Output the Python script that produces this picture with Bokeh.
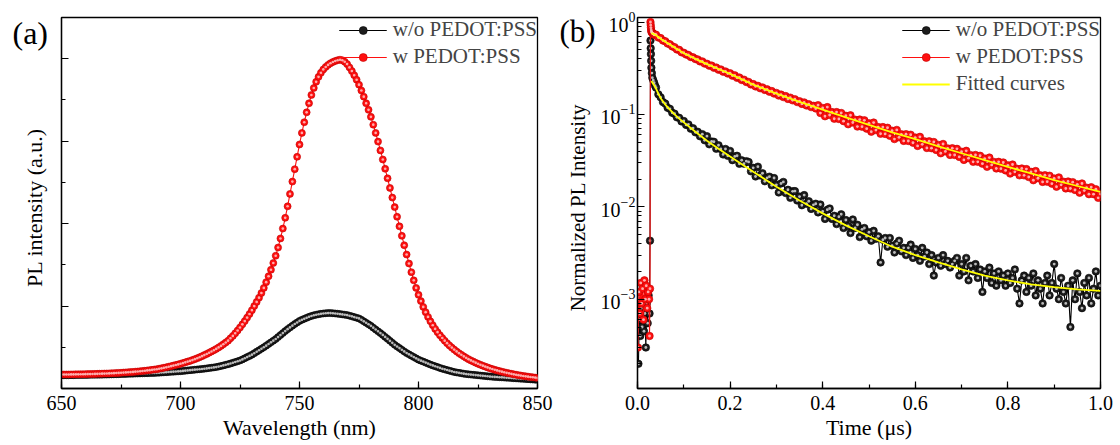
import math
import numpy as np
from bokeh.plotting import figure
from bokeh.layouts import row
from bokeh.models import (Range1d, SingleIntervalTicker, Legend, LegendItem, Label,
                          PrintfTickFormatter)
from bokeh.embed import file_html
from bokeh.resources import INLINE

FONT = "Liberation Serif"

# ---------------- Panel (a): PL spectra ----------------
wavelength = np.arange(650, 851, 1)  # nm, 1 nm step

pl_without = [
    0.160, 0.160, 0.161, 0.161, 0.162, 0.162, 0.163, 0.163, 0.164, 0.164,
    0.165, 0.165, 0.166, 0.166, 0.167, 0.167, 0.168, 0.168, 0.169, 0.169,
    0.170, 0.171, 0.172, 0.173, 0.174, 0.175, 0.176, 0.177, 0.178, 0.179,
    0.180, 0.181, 0.182, 0.183, 0.184, 0.185, 0.186, 0.187, 0.188, 0.189,
    0.190, 0.192, 0.194, 0.196, 0.198, 0.200, 0.202, 0.204, 0.206, 0.208,
    0.210, 0.213, 0.216, 0.219, 0.222, 0.225, 0.228, 0.231, 0.234, 0.237,
    0.240, 0.244, 0.248, 0.252, 0.256, 0.260, 0.266, 0.273, 0.280, 0.287,
    0.295, 0.303, 0.312, 0.321, 0.330, 0.340, 0.353, 0.367, 0.381, 0.395,
    0.410, 0.428, 0.446, 0.464, 0.482, 0.500, 0.520, 0.540, 0.560, 0.580,
    0.600, 0.624, 0.648, 0.672, 0.696, 0.720, 0.741, 0.762, 0.782, 0.801,
    0.820, 0.833, 0.845, 0.857, 0.869, 0.880, 0.888, 0.895, 0.901, 0.906,
    0.910, 0.913, 0.915, 0.915, 0.913, 0.910, 0.907, 0.903, 0.899, 0.895,
    0.890, 0.883, 0.875, 0.866, 0.858, 0.850, 0.833, 0.815, 0.797, 0.779,
    0.760, 0.738, 0.716, 0.694, 0.672, 0.650, 0.626, 0.602, 0.578, 0.554,
    0.530, 0.510, 0.490, 0.470, 0.450, 0.430, 0.414, 0.398, 0.382, 0.366,
    0.350, 0.338, 0.326, 0.314, 0.302, 0.290, 0.280, 0.270, 0.260, 0.250,
    0.240, 0.232, 0.224, 0.216, 0.208, 0.200, 0.195, 0.190, 0.185, 0.180,
    0.175, 0.172, 0.169, 0.166, 0.163, 0.160, 0.157, 0.154, 0.151, 0.148,
    0.145, 0.143, 0.141, 0.139, 0.137, 0.135, 0.133, 0.131, 0.129, 0.127,
    0.125, 0.123, 0.121, 0.119, 0.117, 0.115, 0.113, 0.111, 0.109, 0.107,
    0.105,
]

pl_with = [
    0.170, 0.170, 0.170, 0.170, 0.171, 0.171, 0.172, 0.172, 0.173, 0.173,
    0.174, 0.175, 0.175, 0.176, 0.177, 0.178, 0.179, 0.180, 0.181, 0.182,
    0.183, 0.185, 0.186, 0.188, 0.189, 0.191, 0.193, 0.195, 0.197, 0.199,
    0.201, 0.204, 0.206, 0.209, 0.212, 0.215, 0.219, 0.222, 0.226, 0.230,
    0.234, 0.240, 0.245, 0.251, 0.257, 0.264, 0.271, 0.278, 0.285, 0.292,
    0.300, 0.308, 0.317, 0.326, 0.335, 0.345, 0.356, 0.367, 0.379, 0.392,
    0.405, 0.419, 0.434, 0.449, 0.464, 0.480, 0.498, 0.517, 0.537, 0.558,
    0.580, 0.609, 0.638, 0.670, 0.704, 0.740, 0.778, 0.818, 0.860, 0.904,
    0.950, 1.000, 1.050, 1.102, 1.158, 1.220, 1.290, 1.362, 1.440, 1.522,
    1.610, 1.710, 1.820, 1.940, 2.070, 2.210, 2.360, 2.510, 2.660, 2.810,
    2.960, 3.100, 3.230, 3.350, 3.460, 3.560, 3.645, 3.720, 3.780, 3.830,
    3.870, 3.900, 3.925, 3.945, 3.960, 3.972, 3.982, 3.988, 3.982, 3.963,
    3.935, 3.895, 3.850, 3.800, 3.745, 3.685, 3.615, 3.540, 3.460, 3.380,
    3.295, 3.200, 3.100, 2.995, 2.888, 2.778, 2.665, 2.550, 2.433, 2.316,
    2.200, 2.083, 1.967, 1.852, 1.738, 1.625, 1.516, 1.411, 1.312, 1.220,
    1.136, 1.060, 0.990, 0.926, 0.868, 0.815, 0.767, 0.723, 0.683, 0.646,
    0.612, 0.580, 0.550, 0.522, 0.496, 0.472, 0.450, 0.429, 0.409, 0.390,
    0.372, 0.356, 0.341, 0.327, 0.313, 0.300, 0.288, 0.277, 0.266, 0.256,
    0.245, 0.236, 0.227, 0.219, 0.211, 0.204, 0.197, 0.190, 0.184, 0.178,
    0.172, 0.167, 0.162, 0.157, 0.152, 0.148, 0.144, 0.140, 0.136, 0.132,
    0.128,
]

# ---------------- Panel (b): TRPL decays ----------------
t_early_without = [0.002, 0.004, 0.006, 0.008, 0.010, 0.012, 0.014, 0.016, 0.018,
                   0.020, 0.022, 0.024, 0.026, 0.027, 0.028, 0.0285, 0.029, 0.0295,
                   0.030, 0.031, 0.032, 0.034, 0.036, 0.038]
decay_early_without = [2.0e-4, 6e-4, 4e-4, 8e-4, 5e-4, 1.0e-3, 4.5e-4, 7e-4, 3e-4,
                       9e-4, 5.5e-4, 1.1e-3, 7e-4, 4.3e-3, 0.63, 0.52, 0.45, 0.38,
                       0.32, 0.28, 0.25, 0.235, 0.22, 0.205]

t_early_with = [0.001, 0.003, 0.005, 0.007, 0.009, 0.011, 0.013, 0.015, 0.017, 0.019,
                0.021, 0.023, 0.025, 0.026, 0.027, 0.028, 0.0285, 0.029, 0.0295, 0.030,
                0.031, 0.032, 0.033, 0.034, 0.035, 0.036, 0.037, 0.038]
decay_early_with = [3e-4, 1.2e-3, 7e-4, 1.5e-3, 9e-4, 1.3e-3, 6e-4, 1.6e-3, 1.0e-3, 1.4e-3,
                    8e-4, 1.2e-3, 1.0e-3, 4e-4, 1.3e-3, 1.0, 0.93, 0.87, 0.82, 0.79,
                    0.77, 0.76, 0.75, 0.745, 0.74, 0.735, 0.73, 0.725]

t_main = np.round(np.arange(0.040, 1.0001, 0.005), 3)  # 0.005 us channel grid

decay_main_without = [
    0.195, 0.165, 0.153, 0.136, 0.131, 0.118, 0.115, 0.104, 0.102, 0.093,
    0.092, 0.084, 0.085, 0.077, 0.078, 0.070, 0.071, 0.064, 0.065, 0.058,
    0.0612, 0.0525, 0.0582, 0.0475, 0.0509, 0.0506, 0.0425, 0.0464, 0.0422, 0.0369,
    0.0423, 0.0356, 0.0403, 0.0320, 0.0351, 0.0357, 0.0292, 0.0319, 0.0293, 0.0312,
    0.0306, 0.0242, 0.0264, 0.0213, 0.0272, 0.0218, 0.0231, 0.0189, 0.0206, 0.0212,
    0.0171, 0.0205, 0.0173, 0.0143, 0.0179, 0.0186, 0.0141, 0.0153, 0.0125, 0.0147,
    0.0148, 0.0117, 0.0129, 0.0104, 0.0134, 0.0108, 0.0115, 0.0095, 0.0105, 0.0108,
    0.0087, 0.0106, 0.0089, 0.0074, 0.0093, 0.0096, 0.0074, 0.0080, 0.0065, 0.0078,
    0.0083, 0.0059, 0.0072, 0.0062, 0.0052, 0.0073, 0.0059, 0.0064, 0.0047, 0.0057,
    0.0059, 0.0048, 0.0053, 0.0043, 0.0055, 0.0045, 0.0048, 0.0025, 0.0044, 0.0046,
    0.0037, 0.0046, 0.0038, 0.0032, 0.0040, 0.0043, 0.0033, 0.0036, 0.0030, 0.0036,
    0.0039, 0.0028, 0.0035, 0.0030, 0.0026, 0.0036, 0.0029, 0.0032, 0.0024, 0.0030,
    0.0018, 0.0025, 0.0028, 0.0023, 0.0030, 0.0024, 0.0026, 0.0022, 0.0024, 0.0026,
    0.0028, 0.0018, 0.0024, 0.0020, 0.0028, 0.0016, 0.0023, 0.0020, 0.0024, 0.0017,
    0.0021, 0.0012, 0.0020, 0.0017, 0.0022, 0.0015, 0.0019, 0.0014, 0.0020, 0.0016,
    0.0018, 0.0014, 0.0019, 0.0015, 0.0017, 0.0021, 0.0013, 0.0009, 0.0016, 0.0018,
    0.0012, 0.0017, 0.0014, 0.0019, 0.0011, 0.0016, 0.0013, 0.0009, 0.0015, 0.0018,
    0.0011, 0.0015, 0.0024, 0.0013, 0.0010, 0.0017, 0.0012, 0.0009, 0.0014, 0.0005,
    0.0016, 0.0010, 0.0019, 0.0012, 0.0008, 0.0015, 0.0011, 0.0017, 0.0009, 0.0013,
    0.0020, 0.0011, 0.0014,
]

decay_main_with = [
    0.73, 0.68, 0.67, 0.63, 0.62, 0.585, 0.575, 0.545, 0.535, 0.505,
    0.50, 0.47, 0.465, 0.445, 0.44, 0.418, 0.415, 0.397, 0.394, 0.375,
    0.375, 0.355, 0.354, 0.337, 0.338, 0.32, 0.322, 0.305, 0.307, 0.29,
    0.292, 0.277, 0.279, 0.263, 0.265, 0.249, 0.251, 0.236, 0.238, 0.224,
    0.225, 0.211, 0.213, 0.201, 0.204, 0.192, 0.196, 0.184, 0.187, 0.176,
    0.179, 0.168, 0.171, 0.160, 0.164, 0.154, 0.158, 0.147, 0.152, 0.142,
    0.146, 0.136, 0.139, 0.130, 0.135, 0.125, 0.129, 0.120, 0.124, 0.116,
    0.126, 0.1035, 0.1175, 0.0955, 0.120, 0.0986, 0.106, 0.0898, 0.106, 0.0892,
    0.1037, 0.0846, 0.0967, 0.0783, 0.0979, 0.0818, 0.0877, 0.0739, 0.088, 0.0737,
    0.0864, 0.0702, 0.0801, 0.065, 0.0816, 0.0677, 0.0729, 0.0618, 0.073, 0.0615,
    0.0717, 0.0587, 0.0666, 0.0541, 0.068, 0.0565, 0.0609, 0.0517, 0.0612, 0.0516,
    0.0603, 0.0494, 0.0562, 0.0456, 0.0572, 0.0475, 0.0511, 0.0433, 0.0512, 0.0431,
    0.0503, 0.0412, 0.0468, 0.038, 0.0479, 0.0398, 0.0429, 0.0364, 0.0431, 0.0364,
    0.0424, 0.0347, 0.0395, 0.0322, 0.0404, 0.0336, 0.0362, 0.0307, 0.0364, 0.0307,
    0.0357, 0.0293, 0.0333, 0.0271, 0.0341, 0.0284, 0.0306, 0.026, 0.0307, 0.0259,
    0.0302, 0.0248, 0.0281, 0.0229, 0.0287, 0.0239, 0.0258, 0.0219, 0.026, 0.0219,
    0.0256, 0.021, 0.0239, 0.0194, 0.0244, 0.0204, 0.0219, 0.0186, 0.022, 0.0187,
    0.0217, 0.0178, 0.0203, 0.0165, 0.0208, 0.0173, 0.0187, 0.0158, 0.0188, 0.0158,
    0.0185, 0.0152, 0.0175, 0.0142, 0.0179, 0.015, 0.0161, 0.0137, 0.0163, 0.0137,
    0.0155, 0.0125, 0.0138,
]

t_fit = [0.030, 0.035, 0.040, 0.045, 0.050, 0.060, 0.070, 0.080, 0.090, 0.100,
         0.125, 0.150, 0.175, 0.200, 0.250, 0.300, 0.350, 0.400, 0.450, 0.500,
         0.550, 0.600, 0.650, 0.700, 0.750, 0.800, 0.850, 0.900, 0.950, 1.000]
fit_without = [0.23, 0.21, 0.19, 0.168, 0.150, 0.128, 0.113, 0.100, 0.090, 0.082,
               0.065, 0.052, 0.0425, 0.035, 0.024, 0.0165, 0.0117, 0.0085, 0.0063, 0.0048,
               0.0037, 0.0030, 0.0025, 0.0021, 0.0018, 0.0016, 0.00145, 0.00135, 0.00128, 0.00123]
fit_with = [0.76, 0.74, 0.72, 0.69, 0.66, 0.613, 0.570, 0.531, 0.494, 0.46,
            0.40, 0.35, 0.31, 0.275, 0.21, 0.168, 0.137, 0.113, 0.093, 0.077,
            0.064, 0.054, 0.045, 0.038, 0.032, 0.027, 0.023, 0.0195, 0.0168, 0.0145]

labels = ["w/o PEDOT:PSS", "w PEDOT:PSS"]

BLACK, BLACK_EDGE, BLACK_HI = "#1c1c1c", "#000000", "#d8d8d8"
RED, RED_EDGE, RED_HI = "#ff1010", "#c00000", "#ffc8c8"
YELLOW = "#ffff00"


def style(p):
    p.outline_line_color = "black"
    p.outline_line_width = 1.3
    p.grid.visible = False
    p.background_fill_color = "white"
    p.border_fill_color = "white"
    for ax in p.axis:
        ax.axis_line_width = 1.3
        ax.axis_line_color = "black"
        ax.major_tick_in = 7
        ax.major_tick_out = 0
        ax.minor_tick_in = 4
        ax.minor_tick_out = 0
        ax.major_tick_line_width = 1.2
        ax.minor_tick_line_width = 1.2
        ax.major_label_text_font = FONT
        ax.major_label_text_font_size = "20px"
        ax.major_label_text_color = "black"
        ax.axis_label_text_font = FONT
        ax.axis_label_text_font_size = "22px"
        ax.axis_label_text_font_style = "normal"
        ax.axis_label_text_color = "black"


def series(p, x, y, fill, edge, hi, size):
    ln = p.line(x, y, line_color=edge if fill != RED else RED, line_width=1.1)
    sc = p.scatter(x, y, size=size, fill_color=fill, line_color=edge, line_width=0.6)
    p.scatter(x, y, size=size * 0.38, fill_color=hi, fill_alpha=0.85, line_color=None)
    return ln, sc


def legend(p, items):
    lg = Legend(items=items, location="top_right", border_line_color=None,
                background_fill_alpha=0, label_text_font=FONT,
                label_text_font_size="21px", glyph_width=48, glyph_height=20,
                label_height=20, label_standoff=6, padding=3, margin=0,
                spacing=2)
    p.add_layout(lg)


def side_text(p, side, text, x, y, size, angle=0.0, align="left"):
    p.add_layout(Label(x=x, y=y, x_units="canvas", y_units="canvas", text=text,
                       angle=angle, text_font=FONT, text_font_size=size,
                       text_align=align, text_baseline="middle", text_color="black"),
                 side)


# ---------- figure (a) ----------
pa = figure(width=597, height=445, x_range=Range1d(650, 850), y_range=Range1d(0, 4.5),
            output_backend="svg", toolbar_location=None,
            min_border_left=58, min_border_right=59, min_border_top=17, min_border_bottom=57)
style(pa)
pa.xaxis.ticker = SingleIntervalTicker(interval=50, num_minor_ticks=2)
pa.yaxis.ticker = SingleIntervalTicker(interval=1, num_minor_ticks=2)
pa.yaxis.major_label_text_font_size = "1px"
pa.yaxis.major_label_text_color = None
pa.yaxis.major_label_standoff = 0
pa.xaxis.major_label_standoff = 7
pa.xaxis.axis_label_standoff = 2
pa.xaxis.axis_label = "Wavelength (nm)"

lb_a, sb_a = series(pa, wavelength, pl_without, BLACK, BLACK_EDGE, BLACK_HI, 7)
lr_a, sr_a = series(pa, wavelength, pl_with, RED, RED_EDGE, RED_HI, 7)
legend(pa, [LegendItem(label=labels[0], renderers=[lb_a, sb_a]),
            LegendItem(label=labels[1], renderers=[lr_a, sr_a])])

# outside-frame texts (side panels are not clipped to the frame)
side_text(pa, "left", "(a)", 12, 32, "32px")
side_text(pa, "left", "PL intensity (a.u.)", 34, 207, "22px", angle=math.pi / 2, align="center")
side_text(pa, "right", "(b)", 559, 31, "31px")
side_text(pa, "right", "Normalized PL Intensity", 577, 207, "21px", angle=math.pi / 2, align="center")

# ---------- figure (b) ----------
pb = figure(width=523, height=445, x_range=Range1d(0, 1.0), y_range=Range1d(1.08e-4, 1.12),
            y_axis_type="log", output_backend="svg", toolbar_location=None,
            min_border_left=40, min_border_right=20, min_border_top=15, min_border_bottom=57)
style(pb)
pb.xaxis.ticker = SingleIntervalTicker(interval=0.2, num_minor_ticks=2)
pb.xaxis.formatter = PrintfTickFormatter(format="%.1f")
pb.xaxis.major_label_standoff = 7
pb.xaxis.axis_label_standoff = 2
pb.yaxis.major_label_standoff = 2
pb.xaxis.axis_label = "Time (\u03bcs)"

t_without = list(t_early_without) + list(t_main)
v_without = list(decay_early_without) + list(decay_main_without)
t_with = list(t_early_with) + list(t_main)
v_with = list(decay_early_with) + list(decay_main_with)

lb_b, sb_b = series(pb, t_without, v_without, BLACK, BLACK_EDGE, BLACK_HI, 7.5)
lr_b, sr_b = series(pb, t_with, v_with, RED, RED_EDGE, RED_HI, 7.5)
fit_line = pb.line(t_fit, fit_with, line_color=YELLOW, line_width=1.8)
pb.line(t_fit, fit_without, line_color=YELLOW, line_width=1.8)
legend(pb, [LegendItem(label=labels[0], renderers=[lb_b, sb_b]),
            LegendItem(label=labels[1], renderers=[lr_b, sr_b]),
            LegendItem(label="Fitted curves", renderers=[fit_line])])

layout = row(pa, pb)
open("out.html", "w").write(file_html(layout, INLINE))
